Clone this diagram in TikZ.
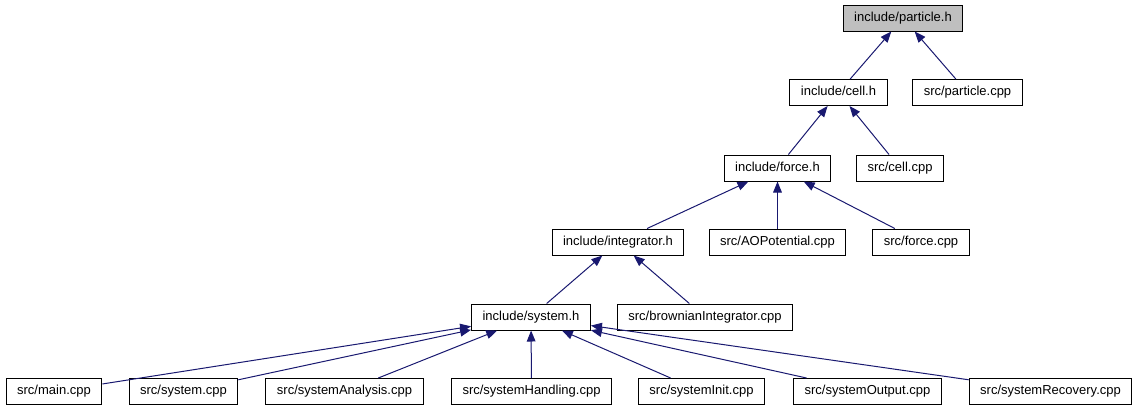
\documentclass[tikz,border=0pt]{standalone}
\usepackage{fontspec}
\setmainfont{Liberation Sans}
\usetikzlibrary{arrows.meta}
\definecolor{edgeblue}{RGB}{25,25,112}
\definecolor{rootgrey}{RGB}{191,191,191}

\begin{document}
\begin{tikzpicture}[
  x=0.75pt, y=-0.75pt,
  file/.style={draw, line width=0.75pt, inner xsep=8.25pt, inner ysep=0pt,
    minimum height=19.5pt, text height=7pt, text depth=2pt,
    font=\fontsize{9.75pt}{11pt}\selectfont},
  root/.style={file, fill=rootgrey},
  inc/.style={-{Triangle[length=8.25pt, width=6.5pt]}, edgeblue, line width=0.75pt},
]
\useasboundingbox (0,0) rectangle (1141,411);

% ---- header chain ----
\node[root] (particleh) at (903,18) {include/particle.h};
\node[file] (cellh) at (838.5,92.5) {include/cell.h};
\node[file] (particlecpp) at (967.5,92.5) {src/particle.cpp};
\node[file] (forceh) at (777.5,168) {include/force.h};
\node[file] (cellcpp) at (900,168) {src/cell.cpp};
\node[file] (integratorh) at (618,242) {include/integrator.h};
\node[file] (aopot) at (777.5,242) {src/AOPotential.cpp};
\node[file] (forcecpp) at (921,242) {src/force.cpp};
\node[file] (systemh) at (531,317) {include/system.h};
\node[file] (brownian) at (705,317) {src/brownianIntegrator.cpp};

% ---- sources that include system.h ----
\node[file] (maincpp) at (54,391.5) {src/main.cpp};
\node[file] (systemcpp) at (183.5,391.5) {src/system.cpp};
\node[file] (analysis) at (344.5,391.5) {src/systemAnalysis.cpp};
\node[file] (handling) at (531.5,391.5) {src/systemHandling.cpp};
\node[file] (init) at (701.5,391.5) {src/systemInit.cpp};
\node[file] (output) at (867.5,391.5) {src/systemOutput.cpp};
\node[file] (recovery) at (1050.5,391.5) {src/systemRecovery.cpp};

% ---- include edges (arrow at the included file) ----
\draw[inc] (cellh) -- (particleh);
\draw[inc] (particlecpp) -- (particleh);
\draw[inc] (forceh) -- (cellh);
\draw[inc] (cellcpp) -- (cellh);
\draw[inc] (integratorh) -- (forceh);
\draw[inc] (aopot) -- (forceh);
\draw[inc] (forcecpp) -- (forceh);
\draw[inc] (systemh) -- (integratorh);
\draw[inc] (brownian) -- (integratorh);
\draw[inc] (maincpp) -- (systemh);
\draw[inc] (systemcpp) -- (systemh);
\draw[inc] (analysis) -- (systemh);
\draw[inc] (handling) -- (systemh);
\draw[inc] (init) -- (systemh);
\draw[inc] (output) -- (systemh);
\draw[inc] (recovery) -- (systemh);

\end{tikzpicture}
\end{document}
